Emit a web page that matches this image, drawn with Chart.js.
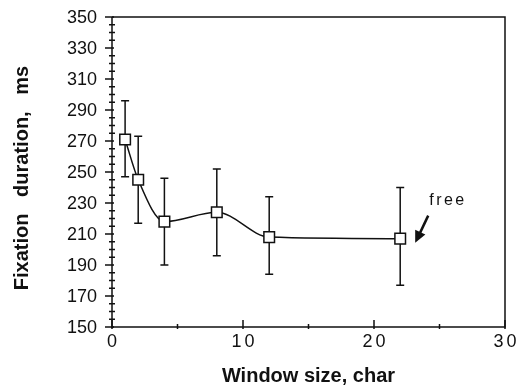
<!DOCTYPE html>
<html>
<head>
<meta charset="utf-8">
<script src="https://cdn.jsdelivr.net/npm/chart.js@4"></script>
<style>
  html, body { margin: 0; padding: 0; background: #fff; }
  #wrap { width: 517px; height: 390px; }
</style>
</head>
<body>
<div id="wrap"><canvas id="fixChart"></canvas></div>
<script>
// --- DATA ---
const windowSizes = [1, 2, 4, 8, 12, 22];
const fixationMs = [271, 245, 218, 224, 208, 207];
const errorHigh = [296, 273, 246, 252, 234, 240];
const errorLow = [247, 217, 190, 196, 184, 177];
const yTicks = [150, 170, 190, 210, 230, 250, 270, 290, 310, 330, 350];
const xTicks = [0, 10, 20, 30];
const annotationLabel = 'free';
const yTitle = 'Fixation   duration,   ms';

const FONT = '"Liberation Sans", Arial, Helvetica, sans-serif';

// error bars, frame, ticks and their labels, y title and the "free" note
const extrasPlugin = {
    id: 'extras',
    beforeDatasetsDraw(chart) {
        const { ctx, scales: { x, y } } = chart;
        ctx.save();
        ctx.strokeStyle = '#111';
        ctx.lineWidth = 1.5;
        windowSizes.forEach((v, i) => {
            const px = x.getPixelForValue(v);
            const top = y.getPixelForValue(errorHigh[i]);
            const bot = y.getPixelForValue(errorLow[i]);
            ctx.beginPath();
            ctx.moveTo(px, top); ctx.lineTo(px, bot);
            ctx.moveTo(px - 4, top); ctx.lineTo(px + 4, top);
            ctx.moveTo(px - 4, bot); ctx.lineTo(px + 4, bot);
            ctx.stroke();
        });
        ctx.restore();
    },
    afterDraw(chart) {
        const { ctx, chartArea: a, scales: { x, y } } = chart;
        ctx.save();
        ctx.strokeStyle = '#111';
        ctx.lineWidth = 1.5;
        // frame
        ctx.beginPath();
        ctx.moveTo(a.left, a.top); ctx.lineTo(a.right, a.top); ctx.lineTo(a.right, a.bottom);
        ctx.lineTo(a.left, a.bottom); ctx.lineTo(a.left, a.top);
        ctx.stroke();
        // y ticks: major outward, minor across the axis
        ctx.beginPath();
        for (let v = y.min; v <= y.max; v += 5) {
            const py = y.getPixelForValue(v);
            if (yTicks.includes(v)) {
                ctx.moveTo(a.left - 7, py); ctx.lineTo(a.left + 2, py);
            } else {
                ctx.moveTo(a.left - 3, py); ctx.lineTo(a.left + 3, py);
            }
        }
        // x ticks: pointing up into the plot
        for (let v = x.min; v <= x.max; v += 5) {
            const px = x.getPixelForValue(v);
            const len = xTicks.includes(v) ? 7 : 3;
            ctx.moveTo(px, a.bottom + 2); ctx.lineTo(px, a.bottom - len);
        }
        ctx.stroke();

        ctx.fillStyle = '#111';
        const spacing = (s) => { if ('letterSpacing' in ctx) ctx.letterSpacing = s; };

        // y tick labels
        ctx.font = '18px ' + FONT;
        ctx.textAlign = 'right';
        ctx.textBaseline = 'middle';
        yTicks.forEach(v => {
            ctx.fillText(String(v), a.left - 15, y.getPixelForValue(v) + 1);
        });

        // x tick labels, letter spaced like the original
        ctx.textAlign = 'center';
        ctx.textBaseline = 'top';
        spacing('3px');
        xTicks.forEach(v => {
            ctx.fillText(String(v), x.getPixelForValue(v) + 1.5, a.bottom + 6);
        });
        spacing('0px');

        // y title, rotated, sits a little below the plot centre
        ctx.save();
        ctx.translate(22, (a.top + a.bottom) / 2 + 6);
        ctx.rotate(-Math.PI / 2);
        ctx.font = 'bold 20px ' + FONT;
        ctx.textAlign = 'center';
        ctx.textBaseline = 'middle';
        ctx.fillText(yTitle, 0, 0);
        ctx.restore();

        // "free" note with arrow, placed next to the last point
        const last = windowSizes.length - 1;
        const px = x.getPixelForValue(windowSizes[last]);
        const py = y.getPixelForValue(fixationMs[last]);
        ctx.font = '16px ' + FONT;
        ctx.textBaseline = 'middle';
        ctx.textAlign = 'left';
        spacing('2.5px');
        ctx.fillText(annotationLabel, px + 29, py - 38);
        spacing('0px');

        const tx = px + 15, ty = py + 4;
        const sx = px + 28, sy = py - 23;
        ctx.lineWidth = 2.5;
        ctx.beginPath();
        ctx.moveTo(sx, sy); ctx.lineTo(tx + 4, ty - 8);
        ctx.stroke();
        const ang = Math.atan2(ty - sy, tx - sx);
        ctx.beginPath();
        ctx.moveTo(tx, ty);
        ctx.lineTo(tx - 13 * Math.cos(ang - 0.45), ty - 13 * Math.sin(ang - 0.45));
        ctx.lineTo(tx - 13 * Math.cos(ang + 0.45), ty - 13 * Math.sin(ang + 0.45));
        ctx.closePath();
        ctx.fill();
        ctx.restore();
    }
};

const ctx = document.getElementById('fixChart');
new Chart(ctx, {
    type: 'line',
    data: {
        datasets: [{
            data: windowSizes.map((v, i) => ({ x: v, y: fixationMs[i] })),
            borderColor: '#111',
            borderWidth: 1.5,
            cubicInterpolationMode: 'monotone',
            pointStyle: 'rect',
            pointRadius: 7.5,
            pointBorderWidth: 1.5,
            pointBorderColor: '#111',
            pointBackgroundColor: '#fff',
            clip: false
        }]
    },
    options: {
        responsive: true,
        maintainAspectRatio: false,
        animation: false,
        devicePixelRatio: 1,
        layout: { padding: { top: 17, right: 12, left: 0, bottom: 0 } },
        plugins: {
            legend: { display: false },
            tooltip: { enabled: false }
        },
        scales: {
            x: {
                type: 'linear',
                min: 0,
                max: 30,
                afterFit: (scale) => { scale.height = 63; },
                afterBuildTicks: (scale) => { scale.ticks = xTicks.map(v => ({ value: v })); },
                grid: { display: false },
                border: { display: false },
                ticks: { display: false },
                title: {
                    display: true,
                    text: 'Window size, char',
                    color: '#111',
                    padding: { top: 0, bottom: 2 },
                    font: { family: FONT, size: 20, weight: 'bold' }
                }
            },
            y: {
                min: 150,
                max: 350,
                afterFit: (scale) => { scale.width = 112; },
                afterBuildTicks: (scale) => { scale.ticks = yTicks.map(v => ({ value: v })); },
                grid: { display: false },
                border: { display: false },
                ticks: { display: false },
                title: { display: false }
            }
        }
    },
    plugins: [extrasPlugin]
});
</script>
</body>
</html>
